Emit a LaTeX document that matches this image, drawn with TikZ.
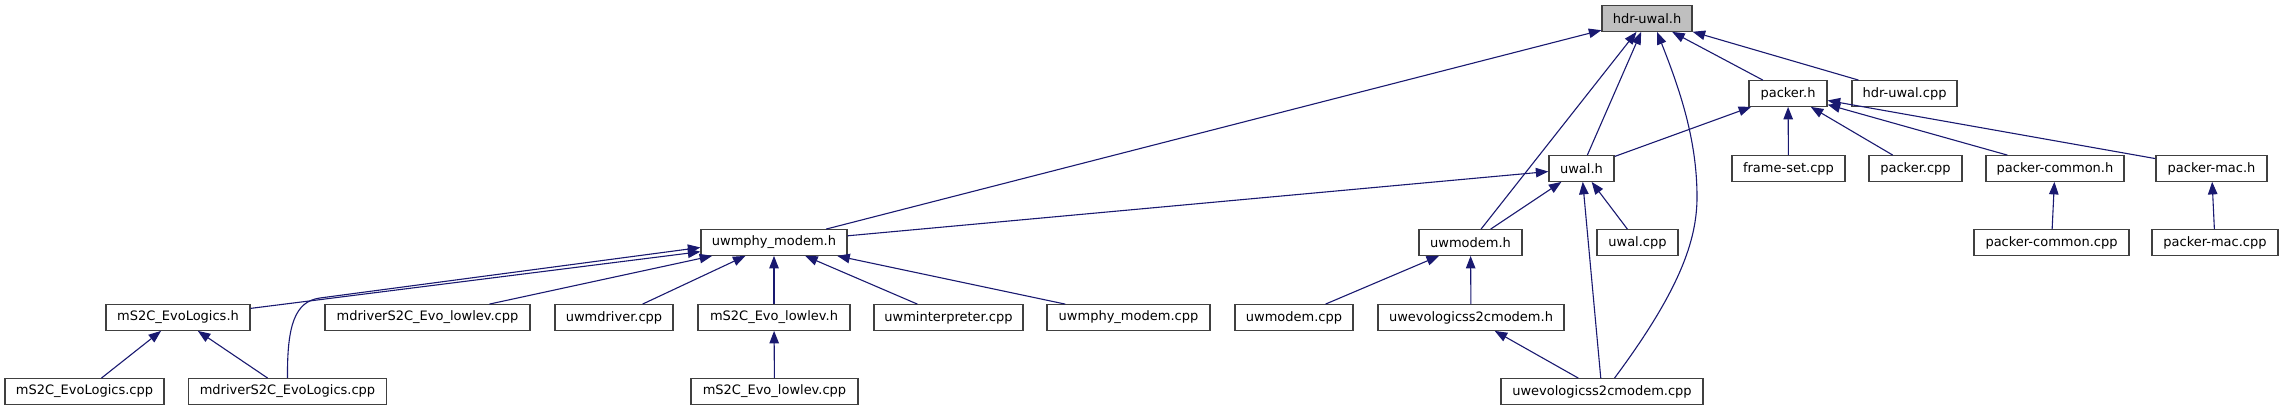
\documentclass[tikz,border=0pt]{standalone}
\usepackage{fontspec}
\setmainfont{DejaVu Sans}
\usetikzlibrary{arrows.meta}
\definecolor{dxnavy}{HTML}{191970}
\definecolor{dxline}{HTML}{404040}
\definecolor{dxgray}{HTML}{BFBFBF}
\tikzset{
  file/.style ={rectangle, draw=dxline, fill=white, line width=1.3pt, minimum height=25.5pt,
                inner xsep=4pt, inner ysep=0pt, font=\fontsize{13}{15}\selectfont},
  root/.style ={file, fill=dxgray},
  inc/.style  ={-{Triangle[length=12.5pt, width=9.5pt]}, draw=dxnavy, line width=1.1pt},
}
\begin{document}
\begin{tikzpicture}[x=1pt, y=-1pt]
  \useasboundingbox (0,0) rectangle (2283,411);
  \node[root, minimum width=90pt]  (hdr)          at (1647,18.5)   {hdr-uwal.h};
  \node[file, minimum width=78pt]  (packerh)      at (1788,93.5)   {packer.h};
  \node[file, minimum width=105pt] (hdrcpp)       at (1904.5,93.5) {hdr-uwal.cpp};
  \node[file, minimum width=65pt]  (uwalh)        at (1581.5,168.5){uwal.h};
  \node[file, minimum width=113pt] (frameset)     at (1788.5,168.5){frame-set.cpp};
  \node[file, minimum width=93pt]  (packercpp)    at (1915.5,168.5){packer.cpp};
  \node[file, minimum width=138pt] (pcommonh)     at (2055,168.5)  {packer-common.h};
  \node[file, minimum width=111pt] (pmach)        at (2211.5,168.5){packer-mac.h};
  \node[file, minimum width=146pt] (uwmphyh)      at (774,242.5)   {uwmphy\_modem.h};
  \node[file, minimum width=103pt] (uwmodemh)     at (1470.5,242.5){uwmodem.h};
  \node[file, minimum width=81pt]  (uwalcpp)      at (1637.5,242.5){uwal.cpp};
  \node[file, minimum width=155pt] (pcommoncpp)   at (2051.5,242.5){packer-common.cpp};
  \node[file, minimum width=126pt] (pmaccpp)      at (2215,242.5)  {packer-mac.cpp};
  \node[file, minimum width=144pt] (evoh)         at (178,317.5)   {mS2C\_EvoLogics.h};
  \node[file, minimum width=205pt] (mdrvlowlev)   at (427.5,317.5) {mdriverS2C\_Evo\_lowlev.cpp};
  \node[file, minimum width=118pt] (uwmdriver)    at (614,317.5)   {uwmdriver.cpp};
  \node[file, minimum width=152pt] (evolowlevh)   at (774,317.5)   {mS2C\_Evo\_lowlev.h};
  \node[file, minimum width=149pt] (uwminterp)    at (948.5,317.5) {uwminterpreter.cpp};
  \node[file, minimum width=163pt] (uwmphycpp)    at (1128.5,317.5){uwmphy\_modem.cpp};
  \node[file, minimum width=118pt] (uwmodemcpp)   at (1294,317.5)  {uwmodem.cpp};
  \node[file, minimum width=186pt] (uwevoh)       at (1471,317.5)  {uwevologicss2cmodem.h};
  \node[file, minimum width=159pt] (evocpp)       at (84.5,391.5)  {mS2C\_EvoLogics.cpp};
  \node[file, minimum width=198pt] (mdrvevo)      at (287.5,391.5) {mdriverS2C\_EvoLogics.cpp};
  \node[file, minimum width=167pt] (evolowlevcpp) at (774.5,391.5) {mS2C\_Evo\_lowlev.cpp};
  \node[file, minimum width=202pt] (uwevocpp)     at (1602,391.5)  {uwevologicss2cmodem.cpp};
  \draw[inc] (uwmphyh) -- (hdr);
  \draw[inc] (uwmodemh) -- (hdr);
  \draw[inc] (uwalh) -- (hdr);
  \draw[inc] ([xshift=12.5pt]uwevocpp.north) .. controls (1680,290) and (1697,240) .. (1697,197)
             .. controls (1697,140) and (1680,90) .. ([xshift=10pt]hdr.south);
  \draw[inc] (packerh) -- (hdr);
  \draw[inc] (hdrcpp) -- (hdr);
  \draw[inc] (uwalh) -- (packerh);
  \draw[inc] (frameset) -- (packerh);
  \draw[inc] (packercpp) -- (packerh);
  \draw[inc] (pcommonh) -- (packerh);
  \draw[inc] (pmach) -- (packerh);
  \draw[inc] (uwmphyh) -- (uwalh);
  \draw[inc] (uwmodemh) -- (uwalh);
  \draw[inc] (uwevocpp) -- (uwalh);
  \draw[inc] (uwalcpp) -- (uwalh);
  \draw[inc] (pcommoncpp) -- (pcommonh);
  \draw[inc] (pmaccpp) -- (pmach);
  \draw[inc] (evoh) -- (uwmphyh);
  \draw[inc] (mdrvevo.north) .. controls (287,325) and (295,301.3) .. (320,298)
             -- ([yshift=-5pt]uwmphyh.west);
  \draw[inc] (mdrvlowlev) -- (uwmphyh);
  \draw[inc] (uwmdriver) -- (uwmphyh);
  \draw[inc] (evolowlevh) -- (uwmphyh);
  \draw[inc] (uwminterp) -- (uwmphyh);
  \draw[inc] (uwmphycpp) -- (uwmphyh);
  \draw[inc] (evocpp) -- (evoh);
  \draw[inc] (mdrvevo) -- (evoh);
  \draw[inc] (evolowlevcpp) -- (evolowlevh);
  \draw[inc] (uwmodemcpp) -- (uwmodemh);
  \draw[inc] (uwevoh) -- (uwmodemh);
  \draw[inc] (uwevocpp) -- (uwevoh);
\end{tikzpicture}
\end{document}
